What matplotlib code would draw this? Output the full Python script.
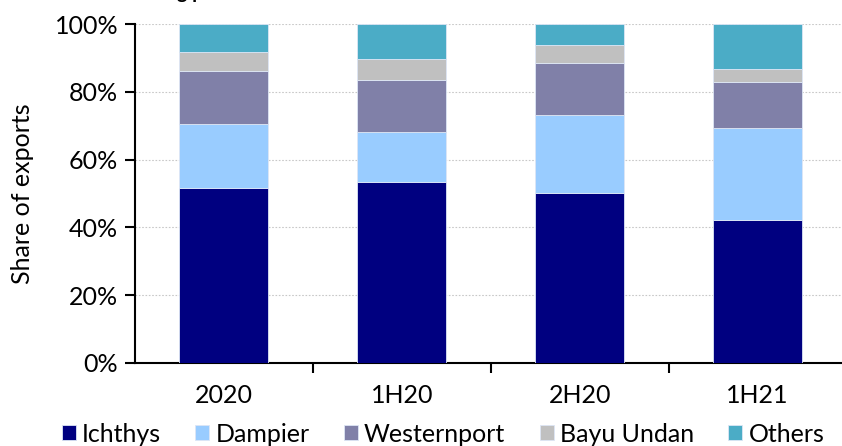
import matplotlib
matplotlib.use("Agg")
import matplotlib.pyplot as plt
import numpy as np

categories = ["2020", "1H20", "2H20", "1H21"]
series_names = ["Ichthys", "Dampier", "Westernport", "Bayu Undan", "Others"]
ichthys = [51.7, 53.3, 50.2, 42.2]
dampier = [18.9, 14.7, 23.1, 27.0]
westernport = [15.5, 15.5, 15.3, 13.6]
bayu_undan = [5.6, 6.2, 5.1, 3.9]
others = [8.3, 10.3, 6.3, 13.3]
yticks = [0, 20, 40, 60, 80, 100]
ytick_labels = ["0%", "20%", "40%", "60%", "80%", "100%"]
colors = ["#000080", "#99CCFF", "#8080A8", "#C0C0C0", "#4BACC6"]

plt.rcParams['font.family'] = ['Lato', 'DejaVu Sans']
FS = 18

fig = plt.figure(figsize=(8.42, 4.46), dpi=100)
ax = fig.add_axes([135/842, 83/446, (846.5-135)/842, (422-83)/446])

x = np.arange(len(categories))
bottom = np.zeros(len(categories))
handles = []
for name, vals, c in zip(series_names, [ichthys, dampier, westernport, bayu_undan, others], colors):
    b = ax.bar(x, vals, width=0.5, bottom=bottom, color=c, edgecolor="#dde6f5", linewidth=0.6, label=name, zorder=3)
    bottom += np.array(vals)
    handles.append(b)

ax.set_xlim(-0.5, 3.5)
ax.set_ylim(0, 100)
ax.set_yticks(yticks)
ax.set_yticklabels(ytick_labels, fontsize=FS)
ax.yaxis.grid(True, linestyle=(0, (1.5, 1.5)), color="#c8c8c8", linewidth=0.8, zorder=0)
ax.set_axisbelow(True)

ax.set_xticks(x)
ax.set_xticklabels(categories, fontsize=FS)
ax.tick_params(axis='x', which='major', length=0, pad=15)
ax.set_xticks([0.5, 1.5, 2.5], minor=True)
ax.tick_params(axis='x', which='minor', length=7, width=1.5, direction='out', color='black')
ax.tick_params(axis='y', length=7, width=1.5, direction='out', pad=5)

for s in ["top", "right"]:
    ax.spines[s].set_visible(False)
ax.spines["left"].set_linewidth(1.5)
ax.spines["bottom"].set_linewidth(1.5)

ax.set_ylabel("Share of exports", fontsize=FS)
ax.yaxis.set_label_coords((34 - 135) / (846.5 - 135), 0.5)

leg = fig.legend(handles=handles, labels=series_names, loc="center", bbox_to_anchor=(443/842, 1 - 434/446),
                 ncol=5, frameon=False, fontsize=FS, handlelength=0.55, handleheight=0.55,
                 handletextpad=0.25, columnspacing=1.38, borderaxespad=0)

fig.text(5/842, 1 + 1/446, "Chart 2: LNG loading port breakdown", fontsize=14, fontweight="bold",
         ha="left", va="baseline", color="black")

fig.savefig("out.png", dpi=100)
